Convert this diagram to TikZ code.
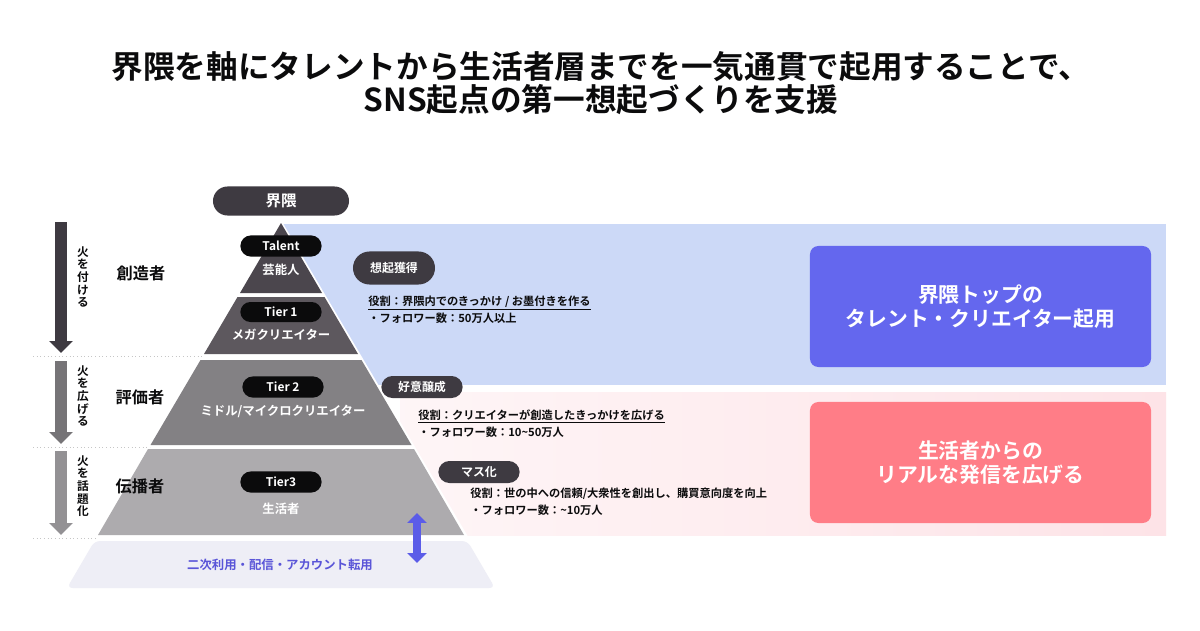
\documentclass[tikz,border=0pt]{standalone}
\usepackage{fontspec}
\setmainfont{Noto Sans CJK JP}[BoldFont={Noto Sans CJK JP Bold}]
\usetikzlibrary{arrows.meta,shapes.misc}
\definecolor{inkdark}{HTML}{3E3A41}
\definecolor{inkblack}{HTML}{0B0B0C}
\definecolor{tierA}{HTML}{4B464D}
\definecolor{tierB}{HTML}{5D585E}
\definecolor{tierC}{HTML}{838184}
\definecolor{tierD}{HTML}{ADABAE}
\definecolor{tierE}{HTML}{EEEEF6}
\definecolor{bandblue}{HTML}{CCD9F7}
\definecolor{bandpink}{HTML}{FDE3E7}
\definecolor{boxblue}{HTML}{6467EE}
\definecolor{boxpink}{HTML}{FF7D87}
\definecolor{arrowblue}{HTML}{5B5CE8}
\definecolor{textblue}{HTML}{5A55D8}

\tikzset{
  pill/.style={rounded rectangle,inner sep=0pt,text=white,font=\fontsize{8.5}{9}\selectfont\bfseries,minimum width=2.03cm,minimum height=0.53cm},
  darkpill/.style={pill,fill=inkdark},
  blackpill/.style={pill,fill=inkblack},
  tiertext/.style={text=white,font=\fontsize{8.8}{10}\selectfont\bfseries},
  rolelabel/.style={font=\fontsize{11.5}{12}\selectfont\bfseries,text=inkblack},
  vtext/.style={align=center,inner sep=0pt,font=\fontsize{8.3}{9}\selectfont\bfseries,text=inkblack},
  notetext/.style={anchor=west,align=left,inner sep=0pt,font=\fontsize{8}{12}\selectfont\bfseries,text=inkblack},
  bigbox/.style={rounded corners=6pt,minimum width=8.525cm,minimum height=3.025cm,align=center,text=white,font=\fontsize{14.8}{17}\selectfont\bfseries},
  sidearrow/.style={line width=8pt,-{Triangle[length=8.5pt,width=16.3pt]}},
  sepline/.style={gray!45,dotted,line width=0.6pt}
}

\begin{document}
\begin{tikzpicture}[x=0.025cm,y=-0.025cm]
\useasboundingbox[fill=white] (0,0) rectangle (1200,630);

% title
\node[align=center,font=\fontsize{22.5}{23.5}\selectfont\bfseries,text=inkblack] (title) at (601,83)
  {界隈を軸にタレントから生活者層までを一気通貫で起用することで、\\SNS起点の第一想起づくりを支援};

% bands
\fill[bandblue] (281,224) rectangle (1166,385);
\shade[left color=bandpink!35,right color=bandpink] (400,392) rectangle (1166,535);

% pyramid
\fill[white] (281,220) -- (470,540) -- (92,540) -- cycle;
\fill[tierA] (281,223) -- (322,293) -- (240,293) -- cycle;
\fill[tierB] (237.5,297) -- (324.5,297) -- (358,354) -- (204,354) -- cycle;
\fill[tierC] (200.5,360) -- (361.5,360) -- (411.5,445) -- (150.5,445) -- cycle;
\fill[tierD] (148,449) -- (414,449) -- (464,535) -- (98,535) -- cycle;
\fill[tierE,rounded corners=4pt] (94.5,541) -- (467.5,541) -- (495,588) -- (67,588) -- cycle;

\node[darkpill,minimum width=3.4cm,minimum height=0.725cm,font=\fontsize{11}{12}\selectfont\bfseries] (kaiwai) at (281,201) {界隈};
\node[blackpill] (talent) at (281,246) {Talent};
\node[tiertext] (geinou) at (281,270) {芸能人};
\node[blackpill,minimum height=0.5cm] (tier1) at (281,312) {Tier 1};
\node[tiertext] (mega) at (281,335) {メガクリエイター};
\node[blackpill] (tier2) at (283,387) {Tier 2};
\node[tiertext] (micro) at (283,411) {ミドル/マイクロクリエイター};
\node[blackpill] (tier3) at (281,482) {Tier3};
\node[tiertext] (seikatsu) at (281,509) {生活者};
\node[tiertext,text=textblue] (niji) at (280,565) {二次利用・配信・アカウント転用};

% left side
\coordinate (a1s) at (61,222); \coordinate (a1e) at (61,353);
\coordinate (a2s) at (61,361); \coordinate (a2e) at (61,444);
\coordinate (a3s) at (61,451); \coordinate (a3e) at (61,535);
\draw[sidearrow,inkdark] (a1s) -- (a1e);
\draw[sidearrow,color=tierC!90!black] (a2s) -- (a2e);
\draw[sidearrow,color=tierD!85!black] (a3s) -- (a3e);
\draw[sepline] (33,356) -- (204,356);
\draw[sepline] (33,447) -- (150,447);
\draw[sepline] (33,538) -- (97,538);

\node[vtext] (fire1) at (83,277) {火\\を\\付\\け\\る};
\node[vtext] (fire2) at (83,396) {火\\を\\広\\げ\\る};
\node[vtext] (fire3) at (83,486) {火\\を\\話\\題\\化};
\node[rolelabel] (souzou) at (141,273) {創造者};
\node[rolelabel] (hyouka) at (140,397) {評価者};
\node[rolelabel] (denpa) at (140,486) {伝播者};

% callouts
\node[darkpill,minimum width=2.05cm,minimum height=0.825cm] (souki) at (394,268) {想起獲得};
\node[notetext] (note1) at (368,309.5) {\underline{役割：界隈内でのきっかけ / お墨付きを作る}\\・フォロワー数：50万人以上};
\node[darkpill,minimum height=0.55cm] (koui) at (422,387) {好意醸成};
\node[notetext] (note2) at (418,423.5) {\underline{役割：クリエイターが創造したきっかけを広げる}\\・フォロワー数：10\textasciitilde 50万人};
\node[darkpill,minimum height=0.55cm] (masu) at (479,472) {マス化};
\node[notetext] (note3) at (470,502) {役割：世の中への信頼/大衆性を創出し、購買意向度を向上\\・フォロワー数：\textasciitilde 10万人};

\coordinate (upend) at (417,513); \coordinate (downend) at (417,563);
\draw[arrowblue,line width=5.5pt,{Triangle[length=7pt,width=13.5pt]}-{Triangle[length=7pt,width=13.5pt]}] (upend) -- (downend);

% right boxes
\node[bigbox,fill=boxblue] (topbox) at (980.5,306.5) {界隈トップの\\タレント・クリエイター起用};
\node[bigbox,fill=boxpink] (realbox) at (980.5,462.5) {生活者からの\\リアルな発信を広げる};
\end{tikzpicture}
\end{document}
